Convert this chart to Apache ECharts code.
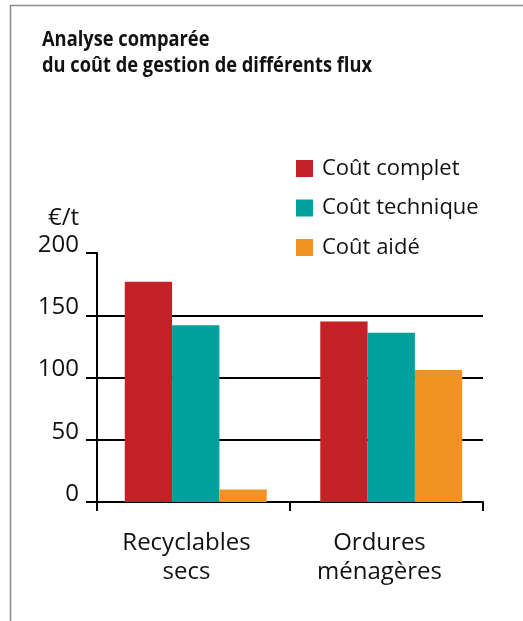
<!DOCTYPE html>
<html>
<head>
<meta charset="utf-8">
<script src="https://cdn.jsdelivr.net/npm/echarts@6/dist/echarts.min.js"></script>
<style>
  html, body { margin: 0; padding: 0; background: #fff; }
  #chart { width: 523px; height: 621px; }
</style>
</head>
<body>
<div id="chart"></div>
<script>
// Waste streams compared
const categories = ['Recyclables\nsecs', 'Ordures\nménagères'];
// Cost per tonne (€/t) for each stream
const coutComplet = [177, 145];
const coutTechnique = [142, 136];
const coutAide = [10, 106];
const seriesNames = ['Coût complet', 'Coût technique', 'Coût aidé'];
const seriesColors = ['#C42126', '#00A19D', '#F09224'];
const titleLines = ['Analyse comparée', 'du coût de gestion de différents flux'];

const labelFont = '"Open Sans", "Noto Sans", sans-serif';
const titleFont = 'bold 21px "Open Sans", "Noto Sans", sans-serif';

// Condense the bold title to its column width
const measureCtx = document.createElement('canvas').getContext('2d');
measureCtx.font = titleFont;
const titleWidth = Math.max(...titleLines.map(t => measureCtx.measureText(t).width));
const titleScale = 330 / titleWidth;

const chart = echarts.init(document.getElementById('chart'), null, { renderer: 'canvas' });

const values = [coutComplet, coutTechnique, coutAide];

chart.setOption({
  backgroundColor: '#fff',
  animation: false,
  legend: {
    orient: 'vertical',
    left: 296,
    top: 157.5,
    padding: 0,
    itemWidth: 17,
    itemHeight: 17,
    itemGap: 17.5,
    icon: 'rect',
    textStyle: {
      fontFamily: labelFont,
      fontSize: 22,
      lineHeight: 17,
      color: '#111',
      padding: [0, 0, 0, 4]
    },
    data: seriesNames
  },
  grid: [
    // axes frame
    { left: 97, top: 253, width: 386, height: 249, containLabel: false },
    // bar area
    { left: 98, top: 253, width: 391, height: 249, containLabel: false }
  ],
  xAxis: [
    {
      type: 'category',
      gridIndex: 0,
      data: categories,
      boundaryGap: true,
      axisLine: { show: true, lineStyle: { color: '#000', width: 2 } },
      axisTick: { show: true, length: 9, lineStyle: { color: '#000', width: 2 } },
      axisLabel: {
        interval: 0,
        margin: 27,
        fontFamily: labelFont,
        fontSize: 24,
        lineHeight: 29,
        color: '#111',
        padding: [0, 14, 0, 0]
      }
    },
    {
      type: 'category',
      gridIndex: 1,
      data: categories,
      show: false
    }
  ],
  yAxis: [
    {
      type: 'value',
      gridIndex: 0,
      min: 0,
      max: 200,
      interval: 50,
      name: '€/t',
      nameLocation: 'end',
      nameGap: 23,
      nameTextStyle: {
        fontFamily: labelFont,
        fontSize: 24,
        color: '#111',
        align: 'right',
        verticalAlign: 'bottom',
        padding: [0, 18, 0, 0]
      },
      axisLine: { show: true, lineStyle: { color: '#000', width: 2 } },
      axisTick: { show: true, length: 11, lineStyle: { color: '#000', width: 2 } },
      axisLabel: {
        margin: 18,
        fontFamily: labelFont,
        fontSize: 24,
        color: '#111',
        verticalAlign: 'bottom',
        lineHeight: 16
      },
      splitLine: {
        show: true,
        showMinLine: false,
        showMaxLine: false,
        lineStyle: { color: '#000', width: 2 }
      }
    },
    {
      type: 'value',
      gridIndex: 1,
      min: 0,
      max: 200,
      interval: 50,
      show: false,
      splitLine: { show: false }
    }
  ],
  series: seriesNames.map((name, i) => ({
    name: name,
    type: 'bar',
    xAxisIndex: 1,
    yAxisIndex: 1,
    data: values[i],
    barGap: '0%',
    barCategoryGap: '27.4%',
    itemStyle: { color: seriesColors[i] },
    z: 3
  })),
  graphic: [
    {
      type: 'polyline',
      shape: { points: [[10.5, 621], [10.5, 5.5], [523, 5.5]] },
      style: { stroke: '#8c8c8c', lineWidth: 1.5, fill: null },
      silent: true
    },
    ...titleLines.map((t, i) => ({
      type: 'text',
      x: 42,
      y: 40 + i * 26,
      scaleX: titleScale,
      silent: true,
      style: {
        text: t,
        font: titleFont,
        fill: '#111',
        verticalAlign: 'middle',
        align: 'left'
      }
    }))
  ]
});
</script>
</body>
</html>
